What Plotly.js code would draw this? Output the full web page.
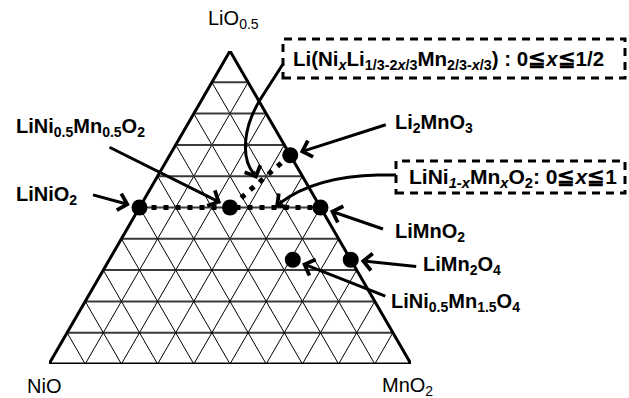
<!DOCTYPE html>
<html><head><meta charset="utf-8">
<script src="https://cdn.plot.ly/plotly-3.0.1.min.js"></script>
<style>html,body{margin:0;padding:0;background:#fff}</style>
</head><body><div id="chart" style="width:629px;height:398px"></div>
<script>
// ---- data ----
const vertexLabels = ['LiO<sub>0.5</sub>', 'NiO', 'MnO<sub>2</sub>'];
const compounds = ['LiNiO2', 'LiNi0.5Mn0.5O2', 'LiMnO2', 'Li2MnO3', 'LiMn2O4', 'LiNi0.5Mn1.5O4'];
const compoundLabels = ['LiNiO<sub>2</sub>', 'LiNi<sub>0.5</sub>Mn<sub>0.5</sub>O<sub>2</sub>', 'LiMnO<sub>2</sub>',
  'Li<sub>2</sub>MnO<sub>3</sub>', 'LiMn<sub>2</sub>O<sub>4</sub>', 'LiNi<sub>0.5</sub>Mn<sub>1.5</sub>O<sub>4</sub>'];
const fracLi = [0.5, 0.5, 0.5, 0.667, 0.333, 0.333];
const fracNi = [0.5, 0.25, 0.0, 0.0, 0.0, 0.16];
const fracMn = [0.0, 0.25, 0.5, 0.333, 0.667, 0.507];
// solid-solution lines
const line1Li = [0.5, 0.5], line1Ni = [0.5, 0.0], line1Mn = [0.0, 0.5];
const line2Li = [0.667, 0.5], line2Ni = [0.0, 0.25], line2Mn = [0.333, 0.25];
const line1Label = 'LiNi<sub><i>1-x</i></sub>Mn<sub><i>x</i></sub>O<sub>2</sub>: 0≦<i>x</i>≦1';
const line2Label = 'Li(Ni<sub><i>x</i></sub>Li<sub>1/3-2<i>x</i>/3</sub>Mn<sub>2/3-<i>x</i>/3</sub>) : 0≦<i>x</i>≦1/2';
const gridDivisions = 10;

// ---- ternary -> cartesian ----
const H = Math.sqrt(3) / 2;
const TX = (a, b, c) => c + a / 2;
const TY = (a) => a * H;
const PX = (px) => (px - 49) / 362;      // pixel -> paper
const PY = (py) => (364 - py) / 313;

const shapes = [];
for (let k = 1; k < gridDivisions; k++) {
  const f = k / gridDivisions;
  shapes.push({type: 'line', xref: 'x', yref: 'y', layer: 'below',
    x0: TX(f, 1 - f, 0), y0: TY(f), x1: TX(f, 0, 1 - f), y1: TY(f),
    line: {color: '#3a3a3a', width: 2}});
  shapes.push({type: 'line', xref: 'x', yref: 'y', layer: 'below',
    x0: TX(0, f, 1 - f), y0: TY(0), x1: TX(1 - f, f, 0), y1: TY(1 - f),
    line: {color: '#000', width: 1}});
  shapes.push({type: 'line', xref: 'x', yref: 'y', layer: 'below',
    x0: TX(0, 1 - f, f), y0: TY(0), x1: TX(1 - f, 0, f), y1: TY(1 - f),
    line: {color: '#000', width: 1}});
}
shapes.push({type: 'path', xref: 'x', yref: 'y', layer: 'below',
  path: `M ${TX(0,1,0)},${TY(0)} L ${TX(1,0,0)},${TY(1)} L ${TX(0,0,1)},${TY(0)} Z`,
  line: {color: '#000', width: 3}});
function box(x0, y0, x1, y1) {
  shapes.push({type: 'rect', xref: 'paper', yref: 'paper', x0: PX(x0), x1: PX(x1), y0: PY(y1), y1: PY(y0),
    line: {color: '#000', width: 3, dash: '8px,6px'}, fillcolor: 'rgba(0,0,0,0)'});
}
box(283, 39, 625, 78);
box(396, 161, 625, 193);
shapes.push({type: 'path', xref: 'paper', yref: 'paper',
  path: `M ${PX(283)},${PY(64)} L ${PX(265)},${PY(92)} C ${PX(240)},${PY(128)} ${PX(242)},${PY(160)} ${PX(254)},${PY(174)}`,
  line: {color: '#000', width: 3}});
shapes.push({type: 'path', xref: 'paper', yref: 'paper',
  path: `M ${PX(396)},${PY(175)} L ${PX(378)},${PY(175)} C ${PX(330)},${PY(176)} ${PX(300)},${PY(188)} ${PX(280)},${PY(203)}`,
  line: {color: '#000', width: 3}});

const traces = [
  {type: 'scatter', mode: 'lines', x: line1Li.map((a, i) => TX(a, line1Ni[i], line1Mn[i])), y: line1Li.map(TY),
   line: {color: '#000', width: 5, dash: '5px,7px'}, hoverinfo: 'skip', cliponaxis: false},
  {type: 'scatter', mode: 'lines', x: line2Li.map((a, i) => TX(a, line2Ni[i], line2Mn[i])), y: line2Li.map(TY),
   line: {color: '#000', width: 5, dash: '5px,7px'}, hoverinfo: 'skip', cliponaxis: false},
  {type: 'scatter', mode: 'markers', x: fracLi.map((a, i) => TX(a, fracNi[i], fracMn[i])), y: fracLi.map(TY),
   text: compounds, marker: {color: '#000', size: 16}, cliponaxis: false}
];

const font = {family: 'Liberation Sans, Arial, sans-serif', size: 20, color: '#000'};
const bold = Object.assign({}, font, {weight: 'bold'});
const boldBox = Object.assign({}, bold, {size: 20.5});
const annotations = [];
annotations.push({xref: 'paper', yref: 'paper', x: PX(233), y: PY(20), text: vertexLabels[0], showarrow: false, font, xanchor: 'center', yanchor: 'middle'});
annotations.push({xref: 'paper', yref: 'paper', x: PX(44), y: PY(386), text: vertexLabels[1], showarrow: false, font, xanchor: 'center', yanchor: 'middle'});
annotations.push({xref: 'paper', yref: 'paper', x: PX(407), y: PY(386), text: vertexLabels[2], showarrow: false, font, xanchor: 'center', yanchor: 'middle'});
const labelPos = [[14, 195], [14, 128], [393, 232], [393, 123], [421, 265], [389, 302]];
const tailOff = [[-48, -13], [-122, -61], [64, 22], [97, -31], [67, 7], [94, 37]];
compoundLabels.forEach((t, i) => {
  annotations.push({xref: 'paper', yref: 'paper', x: PX(labelPos[i][0]), y: PY(labelPos[i][1]), text: t,
    showarrow: false, font: bold, xanchor: 'left', yanchor: 'middle'});
  annotations.push({xref: 'x', yref: 'y', x: TX(fracLi[i], fracNi[i], fracMn[i]), y: TY(fracLi[i]), text: '',
    showarrow: true, ax: tailOff[i][0], ay: tailOff[i][1], arrowhead: 4, arrowsize: 1.1, arrowwidth: 3,
    arrowcolor: '#000', standoff: 10});
});
annotations.push({xref: 'paper', yref: 'paper', x: PX(291), y: PY(60), text: line2Label, showarrow: false, font: boldBox, xanchor: 'left', yanchor: 'middle'});
annotations.push({xref: 'paper', yref: 'paper', x: PX(407), y: PY(178), text: line1Label, showarrow: false, font: Object.assign({}, bold, {size: 21}), xanchor: 'left', yanchor: 'middle'});
annotations.push({xref: 'paper', yref: 'paper', x: PX(257), y: PY(179), text: '', showarrow: true, ax: -4, ay: -9,
  arrowhead: 4, arrowsize: 1.1, arrowwidth: 3, arrowcolor: '#000', standoff: 0});
annotations.push({xref: 'paper', yref: 'paper', x: PX(275), y: PY(207), text: '', showarrow: true, ax: 8, ay: -6,
  arrowhead: 4, arrowsize: 1.1, arrowwidth: 3, arrowcolor: '#000', standoff: 0});

const layout = {
  width: 629, height: 398,
  margin: {l: 49, r: 218, t: 51, b: 34, pad: 0},
  paper_bgcolor: '#fff', plot_bgcolor: '#fff',
  showlegend: false,
  xaxis: {range: [0, 1], visible: false, fixedrange: true},
  yaxis: {range: [0, H], visible: false, fixedrange: true},
  shapes, annotations, font
};
Plotly.newPlot('chart', traces, layout, {displayModeBar: false, staticPlot: true});
</script>
</body></html>
